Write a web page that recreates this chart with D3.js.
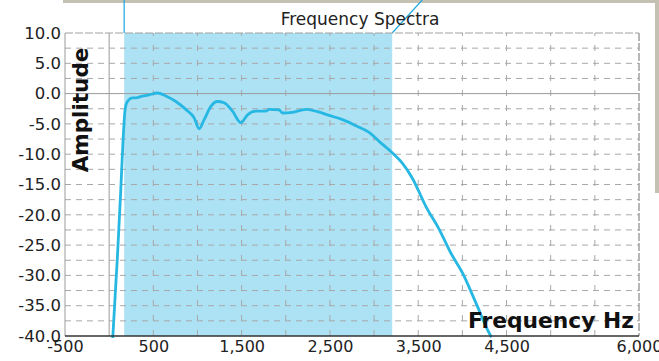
<!DOCTYPE html>
<html><head><meta charset="utf-8">
<script src="https://cdn.jsdelivr.net/npm/d3@7"></script>
<style>
html,body{margin:0;padding:0;background:#fff;}
svg{display:block;font-family:"DejaVu Sans",sans-serif;}
</style></head>
<body>
<svg id="chart" width="659" height="361"></svg>
<script>
// ---- data ----
const freq = [40, 94, 132, 158, 181, 207, 264, 302, 377, 453, 547, 642, 755, 868, 963, 1019, 1076, 1152, 1227, 1302, 1397, 1491, 1567, 1661, 1774, 1812, 1925, 1963, 2076, 2227, 2340, 2491, 2642, 2794, 2944, 3058, 3208, 3322, 3435, 3586, 3737, 3869, 4001, 4152, 4303, 4330];
const amp  = [-40.5, -26.8, -15.8, -7.6, -2.6, -1.3, -0.7, -0.7, -0.4, -0.2, 0.1, -0.4, -1.3, -2.6, -4.0, -5.8, -4.3, -2.1, -1.3, -1.5, -2.9, -4.8, -3.5, -2.9, -2.9, -2.6, -2.7, -3.2, -3.1, -2.6, -2.9, -3.6, -4.3, -5.3, -6.4, -7.9, -9.8, -11.5, -14.0, -18.6, -22.4, -26.3, -29.6, -34.5, -39.5, -40.2];
const bandRange = [170, 3205];
const xTickValues = [-500, 500, 1500, 2500, 3500, 4500, 6000];
const yTickValues = [10, 5, 0, -5, -10, -15, -20, -25, -30, -35, -40];
const xDomain = [-500, 6000];
const yDomain = [-40, 10];
const titleText = "Frequency Spectra";
const xLabel = "Frequency Hz";
const yLabel = "Amplitude";

// ---- layout ----
const svg = d3.select("#chart");
const L = 65, R = 639, T = 33, B = 336;
const x = d3.scaleLinear().domain(xDomain).range([L, R]);
const y = d3.scaleLinear().domain(yDomain).range([B, T]);
const loc = d3.formatLocale({decimal: ".", thousands: ",", grouping: [3], currency: ["", ""], minus: "-"});
const fx = loc.format(",");
const fy = loc.format(".1f");

// decorative backdrop strips from the source screenshot
svg.append("rect").attr("x", 63).attr("y", 0).attr("width", 596).attr("height", 3).attr("fill", "#c4c1b3");
svg.append("rect").attr("x", 655).attr("y", 0).attr("width", 4).attr("height", 193).attr("fill", "#c4c1b3");

// shaded band
svg.append("rect")
  .attr("x", x(bandRange[0])).attr("y", T)
  .attr("width", x(bandRange[1]) - x(bandRange[0])).attr("height", B - T)
  .attr("fill", "#ade2f5");

// connector lines
svg.append("line").attr("x1", x(bandRange[0])).attr("x2", x(bandRange[0]))
  .attr("y1", 0).attr("y2", T).attr("stroke", "#1ba7df").attr("stroke-width", 1.2);
svg.append("line").attr("x1", x(bandRange[1])).attr("x2", x(bandRange[1]) + 30)
  .attr("y1", T).attr("y2", 0).attr("stroke", "#1ba7df").attr("stroke-width", 1.2);

// grid
const g = svg.append("g");
d3.range(-500, 6001, 500).forEach(v => {
  if (v === -500 || v === 6000) return;
  g.append("line").attr("x1", x(v)).attr("x2", x(v)).attr("y1", T).attr("y2", B)
    .attr("stroke", v === 0 ? "#9a9a9a" : "#a8a8a8").attr("stroke-width", 1)
    .attr("stroke-dasharray", v === 0 ? null : "6,9").attr("stroke-dashoffset", 3);
});
d3.range(-40, 10.01, 2.5).forEach(v => {
  if (v === -40 || v === 10) return;
  g.append("line").attr("x1", L).attr("x2", R).attr("y1", y(v)).attr("y2", y(v))
    .attr("stroke", v === 0 ? "#9a9a9a" : "#a8a8a8").attr("stroke-width", 1)
    .attr("stroke-dasharray", v === 0 ? null : "6,5");
});
// frame
g.append("line").attr("x1", L).attr("x2", R).attr("y1", T).attr("y2", T).attr("stroke", "#a0a0a0").attr("stroke-dasharray", "8,2");
g.append("line").attr("x1", R).attr("x2", R).attr("y1", T).attr("y2", B).attr("stroke", "#a0a0a0").attr("stroke-width", 1.5).attr("stroke-dasharray", "8,2");
g.append("line").attr("x1", L).attr("x2", L).attr("y1", T).attr("y2", B).attr("stroke", "#9a9a9a");

// line
svg.append("clipPath").attr("id", "clip").append("rect").attr("x", L).attr("y", T).attr("width", R - L).attr("height", B - T + 2);
const pts = freq.map((f, i) => [f, amp[i]]);
svg.append("path").datum(pts)
  .attr("clip-path", "url(#clip)")
  .attr("fill", "none").attr("stroke", "#26b8e3").attr("stroke-width", 2.8)
  .attr("stroke-linejoin", "round")
  .attr("d", d3.line().x(d => x(d[0])).y(d => y(d[1])).curve(d3.curveMonotoneX));

// bottom axis line
svg.append("line").attr("x1", L).attr("x2", R).attr("y1", B).attr("y2", B)
  .attr("stroke", "#333").attr("stroke-width", 1.6);

// axes
const xAxis = svg.append("g").attr("transform", `translate(0,${B})`)
  .call(d3.axisBottom(x).tickValues(xTickValues).tickFormat(fx).tickSize(0).tickPadding(5));
xAxis.select(".domain").remove();
xAxis.selectAll("text").attr("font-size", 16).attr("fill", "#222").attr("font-family", "DejaVu Sans");

const yAxis = svg.append("g").attr("transform", `translate(${L},0)`)
  .call(d3.axisLeft(y).tickValues(yTickValues).tickFormat(fy).tickSize(0).tickPadding(4));
yAxis.select(".domain").remove();
yAxis.selectAll("text").attr("font-size", 16.5).attr("fill", "#222").attr("font-family", "DejaVu Sans");

// title & labels
svg.append("text").attr("x", 360).attr("y", 25).attr("text-anchor", "middle")
  .attr("font-size", 17).attr("fill", "#222").text(titleText);
svg.append("text").attr("transform", "translate(88,110) rotate(-90)").attr("text-anchor", "middle")
  .attr("font-size", 21.5).attr("font-weight", "bold").attr("fill", "#111").text(yLabel);
svg.append("text").attr("x", 634).attr("y", 328).attr("text-anchor", "end")
  .attr("font-size", 21.8).attr("font-weight", "bold").attr("fill", "#111").text(xLabel);
</script>
</body></html>
